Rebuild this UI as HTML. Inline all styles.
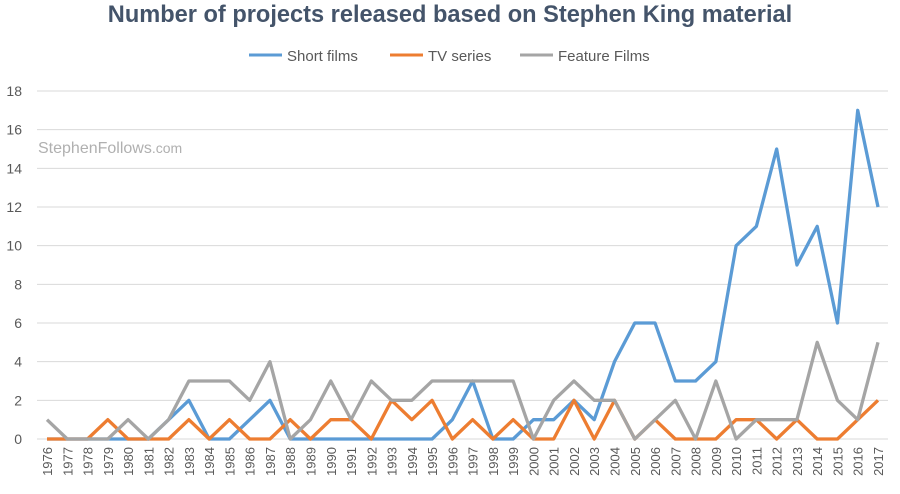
<!DOCTYPE html>
<html><head><meta charset="utf-8"><style>
body{margin:0;background:#fff;font-family:"Liberation Sans",sans-serif}
svg text{font-family:"Liberation Sans",sans-serif}
</style></head><body>
<svg width="900" height="489">
<text x="450" y="22" text-anchor="middle" font-size="23.6" font-weight="bold" fill="#44546a">Number of projects released based on Stephen King material</text>
<g id="legend"></g>
<text x="38" y="153" font-size="16" fill="#b0b0b0">StephenFollows<tspan font-size="14">.com</tspan></text>
<g id="grid"></g><g id="lines"></g><g id="xl"></g>
</svg>
<script>
const years=[];for(let y=1976;y<=2017;y++)years.push(y);
const shortFilms=[0,0,0,0,0,0,1,2,0,0,1,2,0,0,0,0,0,0,0,0,1,3,0,0,1,1,2,1,4,6,6,3,3,4,10,11,15,9,11,6,17,12];
const tvSeries=[0,0,0,1,0,0,0,1,0,1,0,0,1,0,1,1,0,2,1,2,0,1,0,1,0,0,2,0,2,0,1,0,0,0,1,1,0,1,0,0,1,2];
const featureFilms=[1,0,0,0,1,0,1,3,3,3,2,4,0,1,3,1,3,2,2,3,3,3,3,3,0,2,3,2,2,0,1,2,0,3,0,1,1,1,5,2,1,5];
const yTicks=[0,2,4,6,8,10,12,14,16,18];
const seriesNames=["Short films","TV series","Feature Films"];
const colors=["#5b9bd5","#ed7d31","#a5a5a5"];
const NS="http://www.w3.org/2000/svg";
const x=i=>47+i*(878-47)/41, y=v=>439-v*(439-91)/18;
function mk(t,a,p){const e=document.createElementNS(NS,t);for(const k in a)e.setAttribute(k,a[k]);p.appendChild(e);return e;}
const g=document.getElementById('grid');
yTicks.forEach(t=>{
 const l=mk('line',{x1:37,x2:888,y1:y(t),y2:y(t),stroke:'#d9d9d9','stroke-width':1},g);
 
 
 const tx=mk('text',{x:22,y:y(t)+5,'text-anchor':'end','font-size':14,fill:'#595959'},g);
 tx.textContent=t;
 
 
});
const xl=document.getElementById('xl');
years.forEach((yr,i)=>{
 const t=mk('text',{transform:`translate(${x(i)+5},447) rotate(-90)`,'text-anchor':'end','font-size':13,fill:'#595959'},xl);
 t.textContent=yr;
 
 
});
const L=document.getElementById('lines');
[shortFilms,tvSeries,featureFilms].forEach((d,s)=>{
 const p=mk('polyline',{points:d.map((v,i)=>x(i)+','+y(v)).join(' '),fill:'none',stroke:colors[s],'stroke-width':3.3,'stroke-linejoin':'round'},L);
 
 
});
const lg=document.getElementById('legend');
const lx=[249,390,520];
seriesNames.forEach((n,s)=>{
 const l=mk('line',{x1:lx[s],x2:lx[s]+33,y1:55,y2:55,stroke:colors[s],'stroke-width':3},lg);
 
 
 const t=mk('text',{x:lx[s]+38,y:61,'font-size':15,fill:'#595959'},lg);
 t.textContent=n;
 
 
});
</script>
</body></html>
